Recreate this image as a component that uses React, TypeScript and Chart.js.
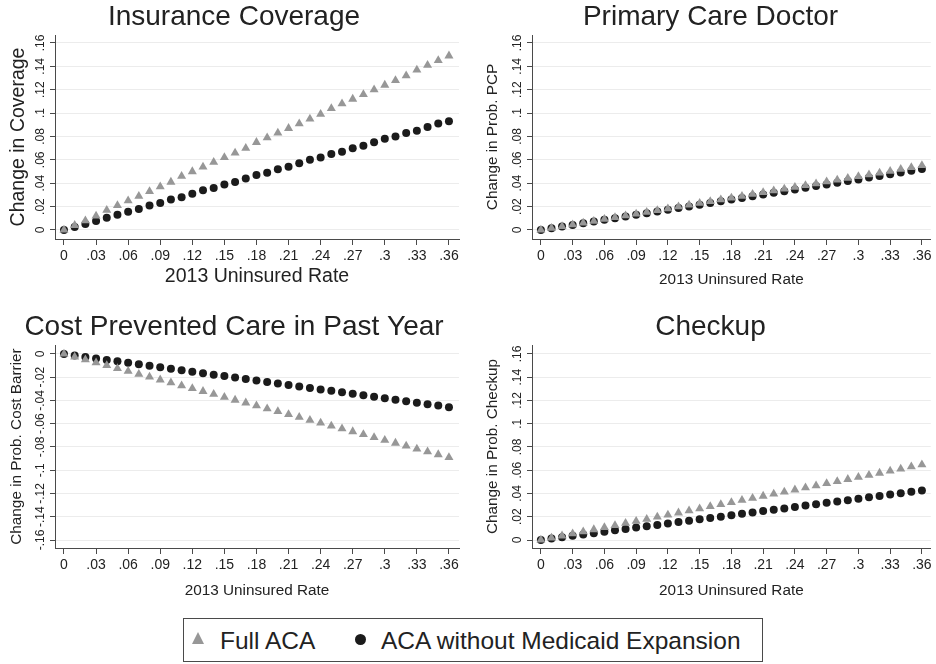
import React, { useEffect, useRef } from 'react';
import { Chart, registerables } from 'chart.js';

Chart.register(...registerables);

// ---------- data ----------
const uninsuredRate = [
  0, 0.01, 0.02, 0.03, 0.04, 0.05, 0.06, 0.07, 0.08, 0.09, 0.1, 0.11, 0.12,
  0.13, 0.14, 0.15, 0.16, 0.17, 0.18, 0.19, 0.2, 0.21, 0.22, 0.23, 0.24, 0.25,
  0.26, 0.27, 0.28, 0.29, 0.3, 0.31, 0.32, 0.33, 0.34, 0.35, 0.36,
];

const coverageFull = [
  0, 0.004, 0.008, 0.012, 0.017, 0.021, 0.025, 0.029, 0.033, 0.037, 0.041,
  0.046, 0.05, 0.054, 0.058, 0.062, 0.066, 0.07, 0.075, 0.079, 0.083, 0.087,
  0.091, 0.095, 0.099, 0.104, 0.108, 0.112, 0.116, 0.12, 0.124, 0.128, 0.132,
  0.137, 0.141, 0.145, 0.149,
];
const coverageNoExp = [
  0, 0.0026, 0.0052, 0.0078, 0.0104, 0.013, 0.0156, 0.018, 0.021, 0.023, 0.026,
  0.028, 0.031, 0.034, 0.036, 0.039, 0.041, 0.044, 0.047, 0.049, 0.052, 0.054,
  0.057, 0.06, 0.062, 0.065, 0.067, 0.07, 0.072, 0.075, 0.078, 0.08, 0.083,
  0.085, 0.088, 0.091, 0.093,
];

const pcpFull = [
  0, 0.0015, 0.003, 0.0046, 0.0061, 0.0076, 0.0092, 0.0107, 0.0122, 0.0138,
  0.0153, 0.0168, 0.0183, 0.0199, 0.0214, 0.0229, 0.0244, 0.026, 0.0275, 0.029,
  0.0306, 0.0321, 0.0336, 0.0351, 0.0367, 0.0382, 0.0397, 0.0413, 0.0428,
  0.0443, 0.0458, 0.0474, 0.0489, 0.0504, 0.052, 0.0535, 0.0553,
];
const pcpNoExp = [
  0, 0.0014, 0.0029, 0.0043, 0.0058, 0.0072, 0.0087, 0.0101, 0.0116, 0.013,
  0.0144, 0.0159, 0.0173, 0.0188, 0.0202, 0.0217, 0.0231, 0.0246, 0.026,
  0.0274, 0.0289, 0.0303, 0.0318, 0.0332, 0.0347, 0.0361, 0.0376, 0.039,
  0.0404, 0.0419, 0.0433, 0.0448, 0.0462, 0.0477, 0.0491, 0.0506, 0.0522,
];

const costFull = [
  0, -0.0025, -0.0049, -0.0074, -0.0099, -0.0124, -0.0148, -0.0173, -0.0198,
  -0.0222, -0.0247, -0.0272, -0.0297, -0.0321, -0.0346, -0.0371, -0.0396,
  -0.042, -0.0445, -0.047, -0.0494, -0.0519, -0.0544, -0.0569, -0.0593,
  -0.0618, -0.0643, -0.0667, -0.0692, -0.0717, -0.0742, -0.0766, -0.0791,
  -0.0816, -0.084, -0.0865, -0.089,
];
const costNoExp = [
  0, -0.0013, -0.0025, -0.0038, -0.0051, -0.0063, -0.0076, -0.0089, -0.0102,
  -0.0114, -0.0127, -0.014, -0.0152, -0.0165, -0.0178, -0.019, -0.0203,
  -0.0216, -0.0228, -0.0241, -0.0254, -0.0267, -0.0279, -0.0292, -0.0305,
  -0.0317, -0.033, -0.0343, -0.0355, -0.0368, -0.0381, -0.0394, -0.0406,
  -0.0419, -0.0432, -0.0444, -0.0457,
];

const checkupFull = [
  0, 0.0018, 0.0036, 0.0054, 0.0072, 0.009, 0.0108, 0.0126, 0.0144, 0.0162,
  0.018, 0.0198, 0.0216, 0.0234, 0.0252, 0.027, 0.0288, 0.0306, 0.0324, 0.0342,
  0.036, 0.0378, 0.0396, 0.0414, 0.0432, 0.045, 0.0468, 0.0486, 0.0504, 0.0522,
  0.054, 0.0558, 0.0576, 0.0594, 0.0612, 0.063, 0.0648,
];
const checkupNoExp = [
  0, 0.0012, 0.0024, 0.0036, 0.0047, 0.0059, 0.0071, 0.0083, 0.0095, 0.0107,
  0.0118, 0.013, 0.0142, 0.0154, 0.0166, 0.0178, 0.0189, 0.0201, 0.0213,
  0.0225, 0.0237, 0.0249, 0.026, 0.0272, 0.0284, 0.0296, 0.0308, 0.032, 0.0331,
  0.0343, 0.0355, 0.0367, 0.0379, 0.0391, 0.0402, 0.0414, 0.0426,
];

const xTicks = [0, 0.03, 0.06, 0.09, 0.12, 0.15, 0.18, 0.21, 0.24, 0.27, 0.3, 0.33, 0.36];
const yTicksPos = [0, 0.02, 0.04, 0.06, 0.08, 0.1, 0.12, 0.14, 0.16];
const yTicksNeg = [-0.16, -0.14, -0.12, -0.1, -0.08, -0.06, -0.04, -0.02, 0];

const seriesNames = ['Full ACA', 'ACA without Medicaid Expansion'];
const xAxisTitle = '2013 Uninsured Rate';

// ---------- style ----------
const FONT = '"Liberation Sans", Arial, Helvetica, sans-serif';
const TEXT = '#222222';
const AXIS = '#4a4a4a';
const GRID = '#ececec';
const TRI = '#979797';
const DOT = '#1b1b1b';

function fmt(v: number): string {
  if (Math.abs(v) < 1e-9) return '0';
  const s = String(+v.toFixed(2));
  return s.replace(/^(-?)0\./, '$1.');
}

type PanelCfg = {
  title: string;
  yTitle: string;
  full: number[];
  noExp: number[];
  yTicks: number[];
  yMin: number;
  yMax: number;
  xMax: number;
  left: number;
  top: number;
  width: number;
  height: number;
  padL: number;
  padR: number;
  titlePadTop: number;
  xScaleH: number;
  yTitleSize: number;
  yTitlePad: number;
  xTitleSize: number;
  xTitlePadB: number;
};

const panels: PanelCfg[] = [
  {
    title: 'Insurance Coverage', yTitle: 'Change in Coverage',
    full: coverageFull, noExp: coverageNoExp, yTicks: yTicksPos,
    yMin: -0.0077, yMax: 0.1668, xMax: 0.3694,
    left: 0, top: 0, width: 470, height: 300, padL: 9, padR: 11,
    titlePadTop: 0.7, xScaleH: 61, yTitleSize: 19.5, yTitlePad: 0,
    xTitleSize: 19.5, xTitlePadB: 13.25,
  },
  {
    title: 'Primary Care Doctor', yTitle: 'Change in Prob. PCP',
    full: pcpFull, noExp: pcpNoExp, yTicks: yTicksPos,
    yMin: -0.0077, yMax: 0.1668, xMax: 0.3684,
    left: 470, top: 0, width: 466, height: 300, padL: 16, padR: 1,
    titlePadTop: 0.7, xScaleH: 61, yTitleSize: 15.3, yTitlePad: -1.15,
    xTitleSize: 15.3, xTitlePadB: 12.85,
  },
  {
    title: 'Cost Prevented Care in Past Year', yTitle: 'Change in Prob. Cost Barrier',
    full: costFull, noExp: costNoExp, yTicks: yTicksNeg,
    yMin: -0.16688, yMax: 0.00774, xMax: 0.3694,
    left: 0, top: 300, width: 470, height: 300, padL: 9, padR: 11,
    titlePadTop: 10.7, xScaleH: 52, yTitleSize: 15.3, yTitlePad: 0,
    xTitleSize: 15.3, xTitlePadB: 1.85,
  },
  {
    title: 'Checkup', yTitle: 'Change in Prob. Checkup',
    full: checkupFull, noExp: checkupNoExp, yTicks: yTicksPos,
    yMin: -0.00688, yMax: 0.16774, xMax: 0.3684,
    left: 470, top: 300, width: 466, height: 300, padL: 16, padR: 1,
    titlePadTop: 10.7, xScaleH: 52, yTitleSize: 15.3, yTitlePad: -1.15,
    xTitleSize: 15.3, xTitlePadB: 1.85,
  },
];

// Rotated y tick labels (Stata style), positioned through the y scale
const yTickLabelPlugin = {
  id: 'rotatedYTickLabels',
  afterDraw(chart: any) {
    const s = chart.scales.y;
    const ctx = chart.ctx;
    ctx.save();
    ctx.font = `12px ${FONT}`;
    ctx.fillStyle = TEXT;
    ctx.textAlign = 'center';
    ctx.textBaseline = 'middle';
    for (const t of s.ticks) {
      const y = s.getPixelForValue(t.value);
      ctx.save();
      ctx.translate(s.right - 14, y);
      ctx.rotate(-Math.PI / 2);
      ctx.fillText(fmt(t.value), 0, 0);
      ctx.restore();
    }
    ctx.restore();
  },
};

function Panel({ cfg }: { cfg: PanelCfg }) {
  const ref = useRef<HTMLCanvasElement>(null);
  useEffect(() => {
    const canvas = ref.current;
    if (!canvas) return;
    const chart = new Chart(canvas, {
      type: 'scatter',
      data: {
        datasets: [
          {
            label: seriesNames[0],
            data: uninsuredRate.map((x, i) => ({ x, y: cfg.full[i] })),
            pointStyle: 'triangle',
            pointRadius: 5.2,
            backgroundColor: TRI,
            borderColor: TRI,
            borderWidth: 0,
          },
          {
            label: seriesNames[1],
            data: uninsuredRate.map((x, i) => ({ x, y: cfg.noExp[i] })),
            pointStyle: 'circle',
            pointRadius: 4,
            backgroundColor: DOT,
            borderColor: DOT,
            borderWidth: 0,
          },
        ],
      },
      options: {
        responsive: false,
        animation: false,
        devicePixelRatio: 1,
        events: [],
        layout: { padding: { left: cfg.padL, right: cfg.padR, top: 0, bottom: 0 } },
        plugins: {
          legend: { display: false },
          tooltip: { enabled: false },
          title: {
            display: true,
            text: cfg.title,
            color: TEXT,
            font: { family: FONT, size: 28, weight: 'normal', lineHeight: 1.2 },
            padding: { top: cfg.titlePadTop, bottom: 0.7 },
          },
        },
        scales: {
          x: {
            type: 'linear',
            position: 'bottom',
            min: -0.0084,
            max: cfg.xMax,
            afterBuildTicks: (s: any) => {
              s.ticks = xTicks.map((v) => ({ value: v }));
            },
            afterFit: (s: any) => {
              s.height = cfg.xScaleH;
              s.paddingLeft = 0;
              s.paddingRight = 0;
            },
            ticks: {
              callback: (v: any) => fmt(Number(v)),
              font: { family: FONT, size: 14 },
              color: TEXT,
              padding: 3,
              maxRotation: 0,
              minRotation: 0,
              autoSkip: false,
            },
            grid: {
              drawOnChartArea: false,
              drawTicks: true,
              tickLength: 6,
              tickColor: AXIS,
              tickWidth: 1,
            },
            border: { display: true, color: AXIS, width: 1 },
            title: {
              display: true,
              text: xAxisTitle,
              color: TEXT,
              font: { family: FONT, size: cfg.xTitleSize, lineHeight: 1 },
              padding: { top: 0, bottom: cfg.xTitlePadB },
            },
          },
          y: {
            type: 'linear',
            position: 'left',
            min: cfg.yMin,
            max: cfg.yMax,
            afterBuildTicks: (s: any) => {
              s.ticks = cfg.yTicks.map((v) => ({ value: v }));
            },
            afterFit: (s: any) => {
              s.width = 46;
              s.paddingTop = 0;
              s.paddingBottom = 0;
            },
            ticks: { display: false },
            grid: {
              color: GRID,
              lineWidth: 1,
              drawTicks: true,
              tickLength: 5,
              tickColor: AXIS,
              tickWidth: 1,
            },
            border: { display: true, color: AXIS, width: 1 },
            title: {
              display: true,
              text: cfg.yTitle,
              color: TEXT,
              font: { family: FONT, size: cfg.yTitleSize, lineHeight: 1 },
              padding: { top: cfg.yTitlePad, bottom: 0 },
            },
          },
        },
      } as any,
      plugins: [yTickLabelPlugin],
    });
    return () => chart.destroy();
  }, [cfg]);
  return (
    <canvas
      ref={ref}
      width={cfg.width}
      height={cfg.height}
      style={{
        position: 'absolute',
        left: cfg.left,
        top: cfg.top,
        width: cfg.width,
        height: cfg.height,
      }}
    />
  );
}

function Legend() {
  return (
    <div
      style={{
        position: 'absolute',
        left: 183,
        top: 618,
        width: 580,
        height: 44,
        boxSizing: 'border-box',
        border: `1px solid ${AXIS}`,
        fontFamily: FONT,
        fontSize: 24.5,
        color: TEXT,
        background: '#fff',
      }}
    >
      <div
        style={{
          position: 'absolute',
          left: 7.5,
          top: 13,
          width: 0,
          height: 0,
          borderLeft: '6.5px solid transparent',
          borderRight: '6.5px solid transparent',
          borderBottom: `12px solid ${TRI}`,
        }}
      />
      <span
        style={{ position: 'absolute', left: 36, top: 1, lineHeight: '42px', whiteSpace: 'nowrap' }}
      >
        {seriesNames[0]}
      </span>
      <div
        style={{
          position: 'absolute',
          left: 170.5,
          top: 14.5,
          width: 11,
          height: 11,
          borderRadius: '50%',
          background: DOT,
        }}
      />
      <span
        style={{ position: 'absolute', left: 197, top: 1, lineHeight: '42px', whiteSpace: 'nowrap' }}
      >
        {seriesNames[1]}
      </span>
    </div>
  );
}

export default function App() {
  return (
    <div
      style={{
        position: 'absolute',
        left: 0,
        top: 0,
        width: 936,
        height: 664,
        overflow: 'hidden',
        background: '#ffffff',
      }}
    >
      {panels.map((p) => (
        <Panel key={p.title} cfg={p} />
      ))}
      <Legend />
    </div>
  );
}
